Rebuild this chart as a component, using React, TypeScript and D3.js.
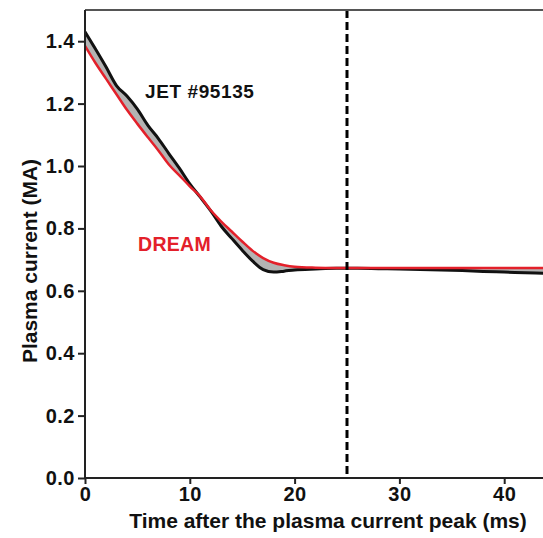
import React, { useRef, useEffect } from "react";
import * as d3 from "d3";

// time after the plasma current peak (ms)
const times = [0, 1, 2, 3, 4, 5, 6, 7, 8, 9, 10, 11, 12, 13, 14, 15, 16, 17, 18, 19, 20, 22, 24, 26, 28, 30, 32, 34, 36, 38, 40, 42, 44, 46];
// measured JET #95135 plasma current (MA)
const jetCurrent = [1.43, 1.375, 1.318, 1.258, 1.224, 1.182, 1.13, 1.088, 1.04, 0.993, 0.943, 0.9, 0.856, 0.807, 0.768, 0.73, 0.695, 0.668, 0.66, 0.663, 0.667, 0.67, 0.672, 0.672, 0.671, 0.67, 0.668, 0.667, 0.665, 0.662, 0.66, 0.658, 0.656, 0.654];
// DREAM simulation (MA)
const dreamCurrent = [1.385, 1.33, 1.28, 1.23, 1.18, 1.135, 1.092, 1.05, 1.005, 0.97, 0.935, 0.902, 0.858, 0.822, 0.79, 0.758, 0.728, 0.705, 0.69, 0.682, 0.677, 0.674, 0.673, 0.673, 0.673, 0.673, 0.673, 0.673, 0.673, 0.673, 0.673, 0.673, 0.673, 0.673];
const yTicks = [0, 0.2, 0.4, 0.6, 0.8, 1.0, 1.2, 1.4];
const xTicks = [0, 10, 20, 30, 40];
const markerTime = 25;

const FONT = "'Liberation Sans', Arial, Helvetica, sans-serif";

const App = () => {
  const svgRef = useRef(null);

  useEffect(() => {
    const svg = d3.select(svgRef.current);
    svg.selectAll("*").remove();

    const W = 543, H = 538;
    const left = 85, top = 10, bottom = 478;

    svg.attr("width", W).attr("height", H).style("background", "#fff");

    const x = d3.scaleLinear().domain([0, 50]).range([left, left + 524]);
    const y = d3.scaleLinear().domain([0, 1.5]).range([bottom, top]);

    const pts = times.map((t, i) => ({ t, jet: jetCurrent[i], dream: dreamCurrent[i] }));

    svg.append("clipPath").attr("id", "plot")
      .append("rect").attr("x", left).attr("y", top).attr("width", W).attr("height", bottom - top);

    const g = svg.append("g").attr("clip-path", "url(#plot)");

    // shaded gap between measurement and simulation
    g.append("path")
      .datum(pts)
      .attr("fill", "#b3b3b3")
      .attr("d", d3.area<any>().x(d => x(d.t)).y0(d => y(d.dream)).y1(d => y(d.jet)).curve(d3.curveMonotoneX));

    g.append("path")
      .datum(pts)
      .attr("fill", "none")
      .attr("stroke", "#111")
      .attr("stroke-width", 3)
      .attr("stroke-linejoin", "round")
      .attr("d", d3.line<any>().x(d => x(d.t)).y(d => y(d.jet)).curve(d3.curveMonotoneX));

    g.append("path")
      .datum(pts)
      .attr("fill", "none")
      .attr("stroke", "#e3202a")
      .attr("stroke-width", 2.5)
      .attr("d", d3.line<any>().x(d => x(d.t)).y(d => y(d.dream)).curve(d3.curveMonotoneX));

    // vertical dashed marker
    svg.append("line")
      .attr("x1", x(markerTime)).attr("x2", x(markerTime))
      .attr("y1", top).attr("y2", bottom)
      .attr("stroke", "#000").attr("stroke-width", 3)
      .attr("stroke-dasharray", "8,4");

    // top frame
    svg.append("line")
      .attr("x1", left).attr("x2", W).attr("y1", top).attr("y2", top)
      .attr("stroke", "#555").attr("stroke-width", 2);

    // axes
    const yAxis = svg.append("g").attr("transform", `translate(${left},0)`)
      .call(d3.axisLeft(y).tickValues(yTicks).tickFormat(d3.format(".1f")).tickSize(7).tickPadding(3));
    yAxis.select(".domain").attr("d", `M0,${bottom}V${top}`).attr("stroke-width", 2).attr("stroke", "#222");
    yAxis.selectAll(".tick line").attr("stroke-width", 2).attr("stroke", "#222");
    yAxis.selectAll(".tick text")
      .attr("font-family", FONT).attr("font-weight", "bold").attr("font-size", 20)
      .attr("fill", "#111").attr("letter-spacing", 0.5);

    const xAxis = svg.append("g").attr("transform", `translate(0,${bottom})`)
      .call(d3.axisBottom(x).tickValues(xTicks).tickFormat(d3.format("d")).tickSize(6).tickPadding(3));
    xAxis.select(".domain").attr("d", `M${left},0H${W}`).attr("stroke-width", 2).attr("stroke", "#222");
    xAxis.selectAll(".tick line").attr("stroke-width", 2).attr("stroke", "#222");
    xAxis.selectAll(".tick text")
      .attr("font-family", FONT).attr("font-weight", "bold").attr("font-size", 20)
      .attr("fill", "#111").attr("letter-spacing", 0.5);

    // axis titles
    svg.append("text")
      .attr("x", 328).attr("y", 528)
      .attr("text-anchor", "middle")
      .attr("font-family", FONT).attr("font-weight", "bold").attr("font-size", 21)
      .attr("fill", "#111")
      .text("Time after the plasma current peak (ms)");

    svg.append("text")
      .attr("transform", "translate(37,261) rotate(-90)")
      .attr("text-anchor", "middle")
      .attr("font-family", FONT).attr("font-weight", "bold").attr("font-size", 21)
      .attr("fill", "#111")
      .text("Plasma current (MA)");

    // annotations
    svg.append("text")
      .attr("x", 145).attr("y", 98)
      .attr("font-family", FONT).attr("font-weight", "bold").attr("font-size", 19)
      .attr("fill", "#111").attr("letter-spacing", 0.6)
      .text("JET #95135");

    svg.append("text")
      .attr("x", 138).attr("y", 251)
      .attr("font-family", FONT).attr("font-weight", "bold").attr("font-size", 19.5)
      .attr("fill", "#e3202a").attr("letter-spacing", 0.3)
      .text("DREAM");
  }, []);

  return <svg ref={svgRef} style={{ position: "absolute", left: 0, top: 0 }}></svg>;
};

export default App;
